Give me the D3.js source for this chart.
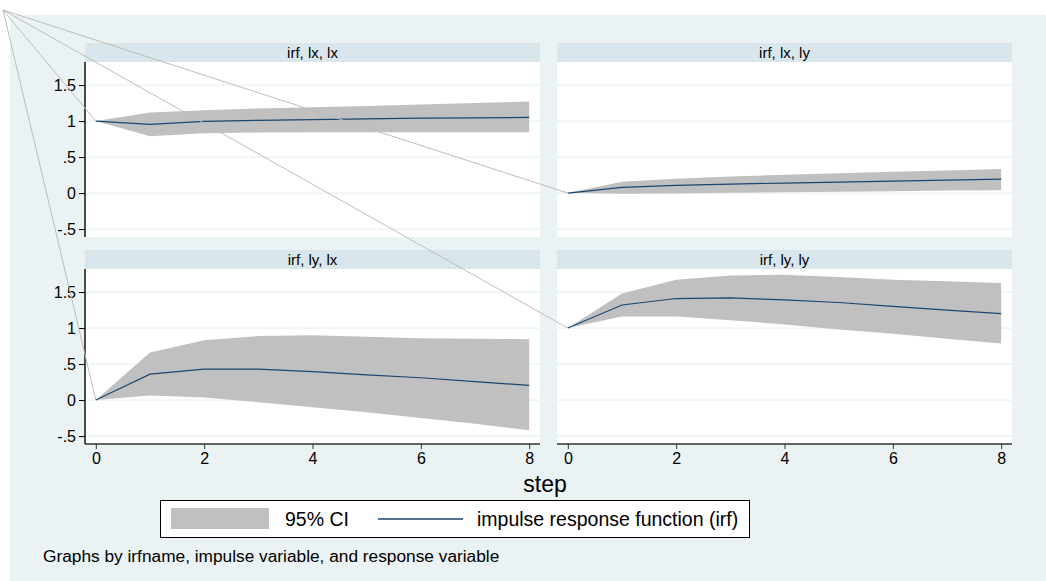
<!DOCTYPE html>
<html>
<head>
<meta charset="utf-8">
<script src="https://cdn.jsdelivr.net/npm/d3@7"></script>
<style>
  html, body { margin: 0; padding: 0; background: #ffffff; }
  svg { display: block; font-family: "Liberation Sans", Arial, Helvetica, sans-serif; }
</style>
</head>
<body>
<svg id="chart" width="1046" height="581"></svg>
<script>
// ---- data ----
const steps = [0, 1, 2, 3, 4, 5, 6, 7, 8];
const panelTitles = ["irf, lx, lx", "irf, lx, ly", "irf, ly, lx", "irf, ly, ly"];

const irf_lx_lx   = [1, 0.955, 0.995, 1.01, 1.02, 1.03, 1.04, 1.045, 1.05];
const upper_lx_lx = [1, 1.12, 1.15, 1.175, 1.19, 1.21, 1.23, 1.25, 1.27];
const lower_lx_lx = [1, 0.79, 0.83, 0.84, 0.845, 0.845, 0.845, 0.845, 0.845];

const irf_lx_ly   = [0, 0.079, 0.106, 0.125, 0.139, 0.153, 0.167, 0.18, 0.194];
const upper_lx_ly = [0, 0.157, 0.2, 0.23, 0.255, 0.275, 0.295, 0.315, 0.333];
const lower_lx_ly = [0, -0.01, -0.005, 0.005, 0.012, 0.02, 0.027, 0.034, 0.04];

const irf_ly_lx   = [0, 0.36, 0.43, 0.43, 0.395, 0.35, 0.31, 0.255, 0.205];
const upper_ly_lx = [0, 0.66, 0.83, 0.89, 0.9, 0.88, 0.86, 0.85, 0.845];
const lower_ly_lx = [0, 0.065, 0.037, -0.03, -0.1, -0.17, -0.25, -0.33, -0.42];

const irf_ly_ly   = [1, 1.32, 1.41, 1.42, 1.39, 1.355, 1.3, 1.25, 1.2];
const upper_ly_ly = [1, 1.48, 1.67, 1.73, 1.74, 1.71, 1.67, 1.65, 1.625];
const lower_ly_ly = [1, 1.16, 1.16, 1.11, 1.05, 0.98, 0.92, 0.85, 0.785];

const yTicks = [-0.5, 0, 0.5, 1, 1.5];
const yTickLabels = ["-.5", "0", ".5", "1", "1.5"];
const xTicks = [0, 2, 4, 6, 8];
const legendLabels = ["95% CI", "impulse response function (irf)"];
const xTitle = "step";
const note = "Graphs by irfname, impulse variable, and response variable";

const panels = [
  { title: panelTitles[0], irf: irf_lx_lx, up: upper_lx_lx, lo: lower_lx_lx, col: 0, row: 0 },
  { title: panelTitles[1], irf: irf_lx_ly, up: upper_lx_ly, lo: lower_lx_ly, col: 1, row: 0 },
  { title: panelTitles[2], irf: irf_ly_lx, up: upper_ly_lx, lo: lower_ly_lx, col: 0, row: 1 },
  { title: panelTitles[3], irf: irf_ly_ly, up: upper_ly_ly, lo: lower_ly_ly, col: 1, row: 1 }
];

// ---- layout ----
const W = 1046, H = 581;
const colX = [[85, 540], [557, 1012]];
const rowY = [{ strip: 43, top: 62, bottom: 237 }, { strip: 250, top: 269, bottom: 444 }];
const C = {
  outer: "#eaf2f3", strip: "#d9e6eb", grid: "#eaf2f3",
  ci: "#c0c0c0", line: "#1a476f", artifact: "#bdbdbd"
};
const FONT = "Liberation Sans, Arial, sans-serif";

const svg = d3.select("#chart");
svg.append("rect").attr("x", 10).attr("y", 15).attr("width", W - 10).attr("height", H - 15).attr("fill", C.outer);

const xScales = colX.map(r => d3.scaleLinear().domain([-0.2, 8.2]).range(r));
const yScales = rowY.map(r => d3.scaleLinear().domain([-0.61, 1.82]).range([r.bottom, r.top]));

panels.forEach(p => {
  const x = xScales[p.col], y = yScales[p.row], R = rowY[p.row];
  const [x0, x1] = x.range();
  const g = svg.append("g");
  // strip
  g.append("rect").attr("x", x0).attr("y", R.strip).attr("width", x1 - x0).attr("height", R.top - R.strip).attr("fill", C.strip);
  g.append("text").attr("x", (x0 + x1) / 2).attr("y", (R.strip + R.top) / 2).attr("dy", "0.35em")
    .attr("text-anchor", "middle").attr("font-size", 15).attr("fill", "#000").text(p.title);
  // plot region
  g.append("rect").attr("x", x0).attr("y", R.top).attr("width", x1 - x0).attr("height", R.bottom - R.top).attr("fill", "#fff");
  // grid
  g.selectAll(".grid").data(yTicks).enter().append("line")
    .attr("x1", x0).attr("x2", x1).attr("y1", d => y(d)).attr("y2", d => y(d))
    .attr("stroke", C.grid).attr("stroke-width", 1.2);
  // CI area
  const area = d3.area().x((d, i) => x(steps[i])).y0((d, i) => y(p.lo[i])).y1((d, i) => y(p.up[i]));
  g.append("path").datum(steps).attr("d", area).attr("fill", C.ci);
  // irf line
  const line = d3.line().x((d, i) => x(steps[i])).y(d => y(d));
  g.append("path").datum(p.irf).attr("d", line).attr("fill", "none").attr("stroke", C.line).attr("stroke-width", 1.2);

  // y axis on left column
  if (p.col === 0) {
    const ax = d3.axisLeft(y).tickValues(yTicks).tickSize(6).tickPadding(3)
      .tickFormat((d, i) => yTickLabels[i]);
    const a = g.append("g").attr("transform", `translate(${x0},0)`).call(ax);
    a.select(".domain").attr("d", `M0,${R.top}V${R.bottom}`).attr("stroke", "#000").attr("stroke-width", 1.4);
    a.selectAll(".tick line").attr("stroke", "#000");
    a.selectAll("text").attr("font-size", 16).attr("font-family", FONT).attr("fill", "#000");
  }
  // x axis on bottom row
  if (p.row === 1) {
    const ax = d3.axisBottom(x).tickValues(xTicks).tickSize(5).tickPadding(4).tickFormat(d3.format("d"));
    const a = g.append("g").attr("transform", `translate(0,${R.bottom})`).call(ax);
    a.select(".domain").attr("d", `M${x0},0H${x1}`).attr("stroke", "#333").attr("stroke-width", 1.4);
    a.selectAll(".tick line").attr("stroke", "#333");
    a.selectAll("text").attr("font-size", 16).attr("font-family", FONT).attr("fill", "#000");
  }
});

// stray lines from the page corner to each panel's first point (as in the source rendering)
const corner = [3, 10];
panels.forEach(p => {
  const x = xScales[p.col], y = yScales[p.row];
  svg.append("line").attr("x1", corner[0]).attr("y1", corner[1])
    .attr("x2", x(steps[0])).attr("y2", y(p.irf[0]))
    .attr("stroke", C.artifact).attr("stroke-width", 1);
});

// x title
svg.append("text").attr("x", 545).attr("y", 492).attr("text-anchor", "middle")
  .attr("font-size", 23).attr("fill", "#000").text(xTitle);

// legend
const lg = svg.append("g");
lg.append("rect").attr("x", 160.5).attr("y", 500.5).attr("width", 589).attr("height", 37)
  .attr("fill", "#fff").attr("stroke", "#000").attr("stroke-width", 1);
lg.append("rect").attr("x", 171).attr("y", 508).attr("width", 98).attr("height", 21).attr("fill", C.ci);
lg.append("text").attr("x", 285).attr("y", 519).attr("dy", "0.35em").attr("font-size", 19.5).attr("fill", "#000").text(legendLabels[0]);
lg.append("line").attr("x1", 378).attr("x2", 463).attr("y1", 519).attr("y2", 519).attr("stroke", C.line).attr("stroke-width", 1.4);
lg.append("text").attr("x", 477).attr("y", 519).attr("dy", "0.35em").attr("font-size", 19.5).attr("fill", "#000").text(legendLabels[1]);

// note
svg.append("text").attr("x", 43).attr("y", 562).attr("font-size", 17.3).attr("fill", "#000").text(note);
</script>
</body>
</html>
